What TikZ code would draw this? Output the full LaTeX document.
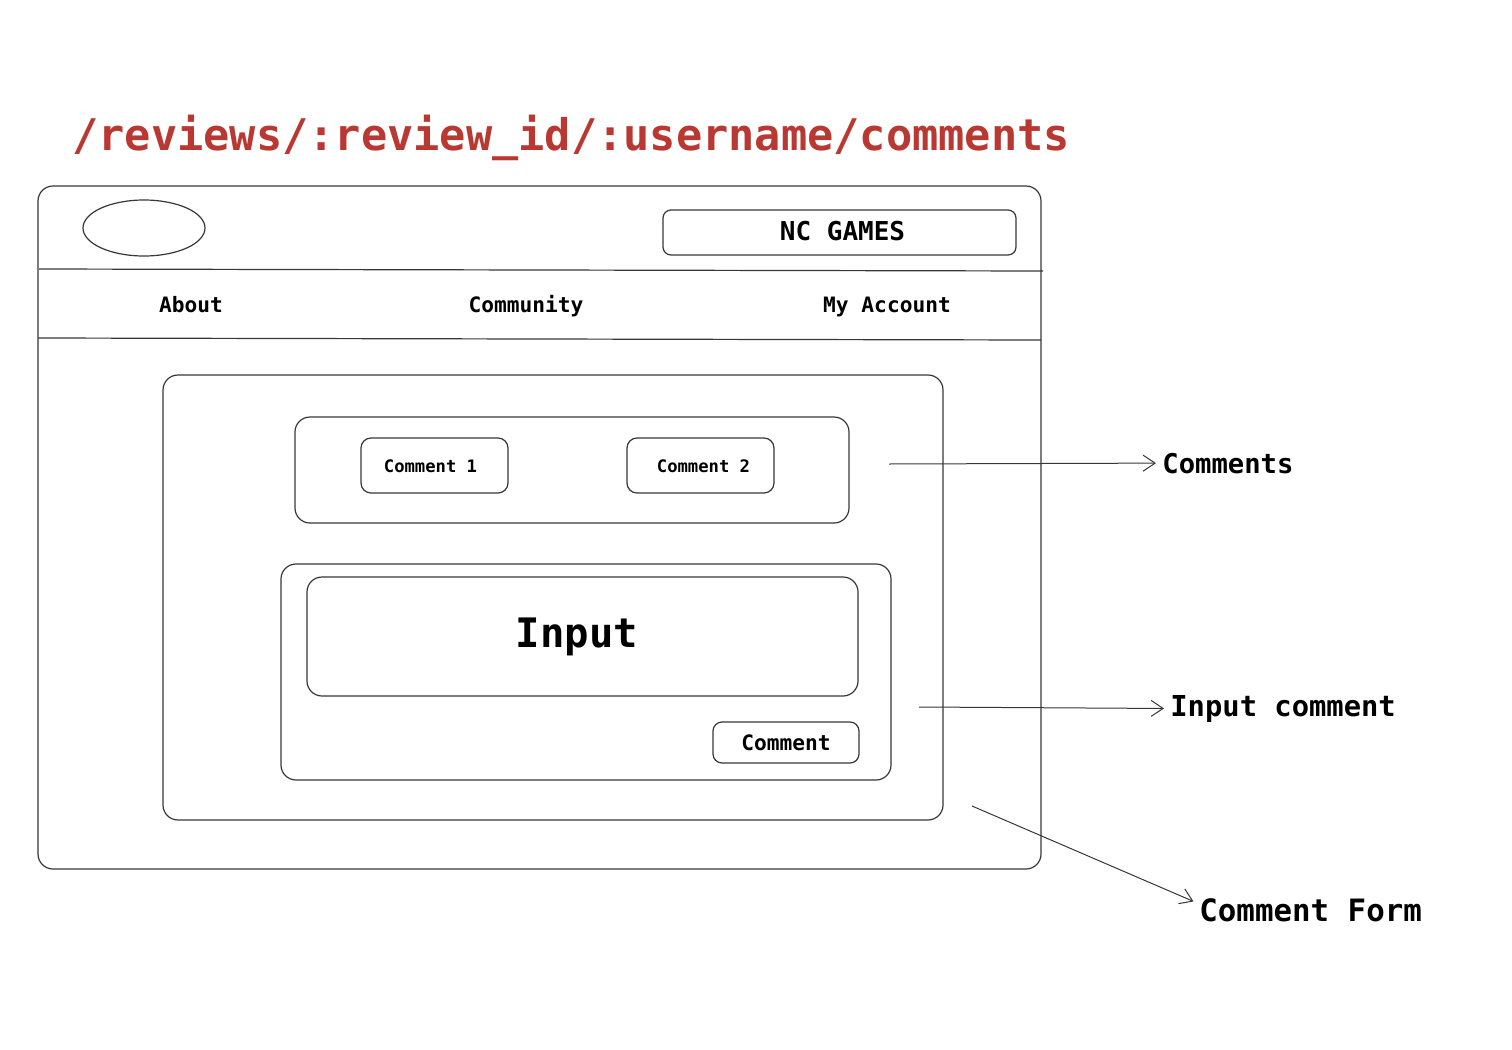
\documentclass[tikz,border=0pt]{standalone}
\usepackage{fontspec}
\setmonofont{DejaVu Sans Mono}
\usetikzlibrary{arrows.meta,shapes.geometric}

\definecolor{routered}{RGB}{186,56,50}
\definecolor{sketch}{RGB}{55,55,55}

\newcommand{\fsz}[1]{\ttfamily\bfseries\fontsize{#1}{#1}\selectfont}

\begin{document}
\begin{tikzpicture}[x=0.5pt, y=-0.5pt,
  panel/.style={draw=sketch, line width=0.6pt, rounded corners=7.5pt, inner sep=0pt},
  btn/.style={panel, rounded corners=5pt, font=\fsz{8.6}},
  navlink/.style={font=\fsz{10.6}, anchor=base, inner sep=0pt},
  note/.style={anchor=base west, inner sep=0pt},
  pointer/.style={draw=sketch, line width=0.5pt, shorten >=3pt,
    -{Straight Barb[length=6pt, width=8pt, line width=0.5pt]}}]
\useasboundingbox (0,0) rectangle (1512,1050);

% route title
\node (route) [note, text=routered, font=\fsz{21.8}] at (72,150)
  {/reviews/:review\_id/:username/comments};

% browser frame and header
\node (page) [panel, minimum width=501.5pt, minimum height=341.5pt] at (539.5,527.5) {};
\node (logo) [ellipse, draw=sketch, line width=0.6pt, minimum width=61pt, minimum height=28pt] at (144,228) {};
\node (brand) [panel, rounded corners=4pt, minimum width=176.5pt, minimum height=22.5pt,
  label={[font=\fsz{13}, xshift=1.5pt, yshift=0.5pt]center:NC GAMES}] at (839.5,232.5) {};
\draw[draw=sketch, line width=0.6pt] (39,269) -- (1043,271);
\draw[draw=sketch, line width=0.6pt] (38,338) -- (1041,340);

% navigation
\node (about) [navlink] at (191,312) {About};
\node (community) [navlink] at (526,312) {Community};
\node (account) [navlink] at (887,312) {My Account};

% content
\node (content) [panel, minimum width=390pt, minimum height=222.5pt] at (553,597.5) {};
\node (comments) [panel, minimum width=277pt, minimum height=53pt] at (572,470) {};
\node (c1) [btn, minimum width=73.5pt, minimum height=27.5pt,
  label={[font=\fsz{8.6}, xshift=-2pt, yshift=-0.5pt]center:Comment 1}] at (434.5,465.5) {};
\node (c2) [btn, minimum width=73.5pt, minimum height=27.5pt,
  label={[font=\fsz{8.6}, xshift=1.5pt, yshift=-0.5pt]center:Comment 2}] at (700.5,465.5) {};

\node (form) [panel, minimum width=305pt, minimum height=108pt] at (586,672) {};
\node (input) [panel, minimum width=275.5pt, minimum height=59.5pt,
  label={[font=\fsz{20.3}, xshift=-2.8pt]center:Input}] at (582.5,636.5) {};
\node (submit) [btn, rounded corners=4.5pt, minimum width=73pt, minimum height=20.5pt,
  font=\fsz{10.6}] at (786,742.5) {Comment};

% annotations
\node (lblcomments) [note, font=\fsz{13.6}] at (1162,473) {Comments};
\node (lblinput) [note, font=\fsz{14.4}] at (1170,716) {Input comment};
\node (lblform) [note, font=\fsz{15.4}] at (1199,921) {Comment Form};

\coordinate (fromcomments) at (889,464);
\coordinate (frominput) at (919,707);
\coordinate (fromform) at (972,806);

\draw[pointer] (fromcomments) -- (lblcomments.west);
\draw[pointer] (frominput) -- (lblinput.west);
\draw[pointer] (fromform) -- ([yshift=3pt]lblform.west);
\end{tikzpicture}
\end{document}
